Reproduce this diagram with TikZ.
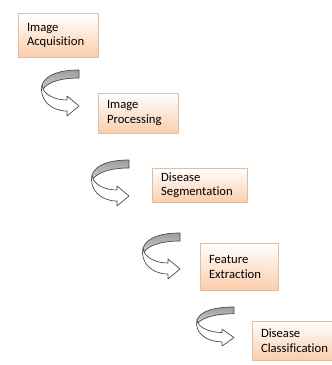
\documentclass[tikz,border=0pt]{standalone}
\usepackage{fontspec}
\setmainfont{Carlito}[Ligatures=NoCommon]
\tikzset{every picture/.style={line width=0.75pt}}

\definecolor{boxpeach}{RGB}{250,205,170}
\definecolor{boxedge}{RGB}{222,190,165}
\definecolor{banddark}{RGB}{158,158,158}
\definecolor{bandlight}{RGB}{205,205,205}
\definecolor{arrowedge}{RGB}{70,70,70}

\tikzset{
  stepbox/.style={draw=boxedge, line width=0.5pt, top color=white, bottom color=boxpeach,
    anchor=north west, align=left, inner xsep=6.5pt, inner ysep=2pt,
    font=\fontsize{9.5}{11}\selectfont},
  arrowline/.style={draw=arrowedge, line width=0.5pt, line join=round}
}

% curved turn arrow, origin at the top right end of the band
\newcommand{\turnarrow}[2][]{%
  \begin{scope}[shift={#2},#1]
    % back of the band
    \draw[arrowline, top color=banddark, bottom color=bandlight] (0,0) .. controls (-18,0) and (-33,4) .. (-37,15) -- (-36,19) .. controls (-31,12) and (-18,8) .. (0,8) -- cycle;
    % front of the band with the head
    \draw[arrowline, fill=white] (-37,15) .. controls (-40,30) and (-28,41) .. (-12,41) -- (-12,46) -- (0,36) -- (-12,26) -- (-12,30) .. controls (-24,30) and (-33,25) .. (-36,19) -- cycle;
  \end{scope}}

\begin{document}
\begin{tikzpicture}[x=0.75pt,y=0.75pt,yscale=-1,xscale=1]
\useasboundingbox (0,0) rectangle (332,365);

% Boxes
\node[stepbox, minimum width=60pt, minimum height=33pt, text width=47pt] (acq) at (18,13) {Image\\Acquisition};
\node[stepbox, minimum width=60pt, minimum height=30pt, text width=47pt] (proc) at (98,93) {Image\\Processing};
\node[stepbox, minimum width=71.25pt, minimum height=25.5pt, text width=58pt] (seg) at (152,168) {Disease\\Segmentation};
\node[stepbox, minimum width=58.5pt, minimum height=35.25pt, text width=45.5pt] (feat) at (200,243) {Feature\\Extraction};
\node[stepbox, minimum width=63pt, minimum height=29.25pt, text width=51pt] (cls) at (252,321) {Disease\\Classification};

% Turn arrows
\turnarrow{(79,70)}
\turnarrow{(129,160)}
\turnarrow{(180,233)}
\turnarrow[yscale=0.85]{(234,307)}

\end{tikzpicture}
\end{document}
